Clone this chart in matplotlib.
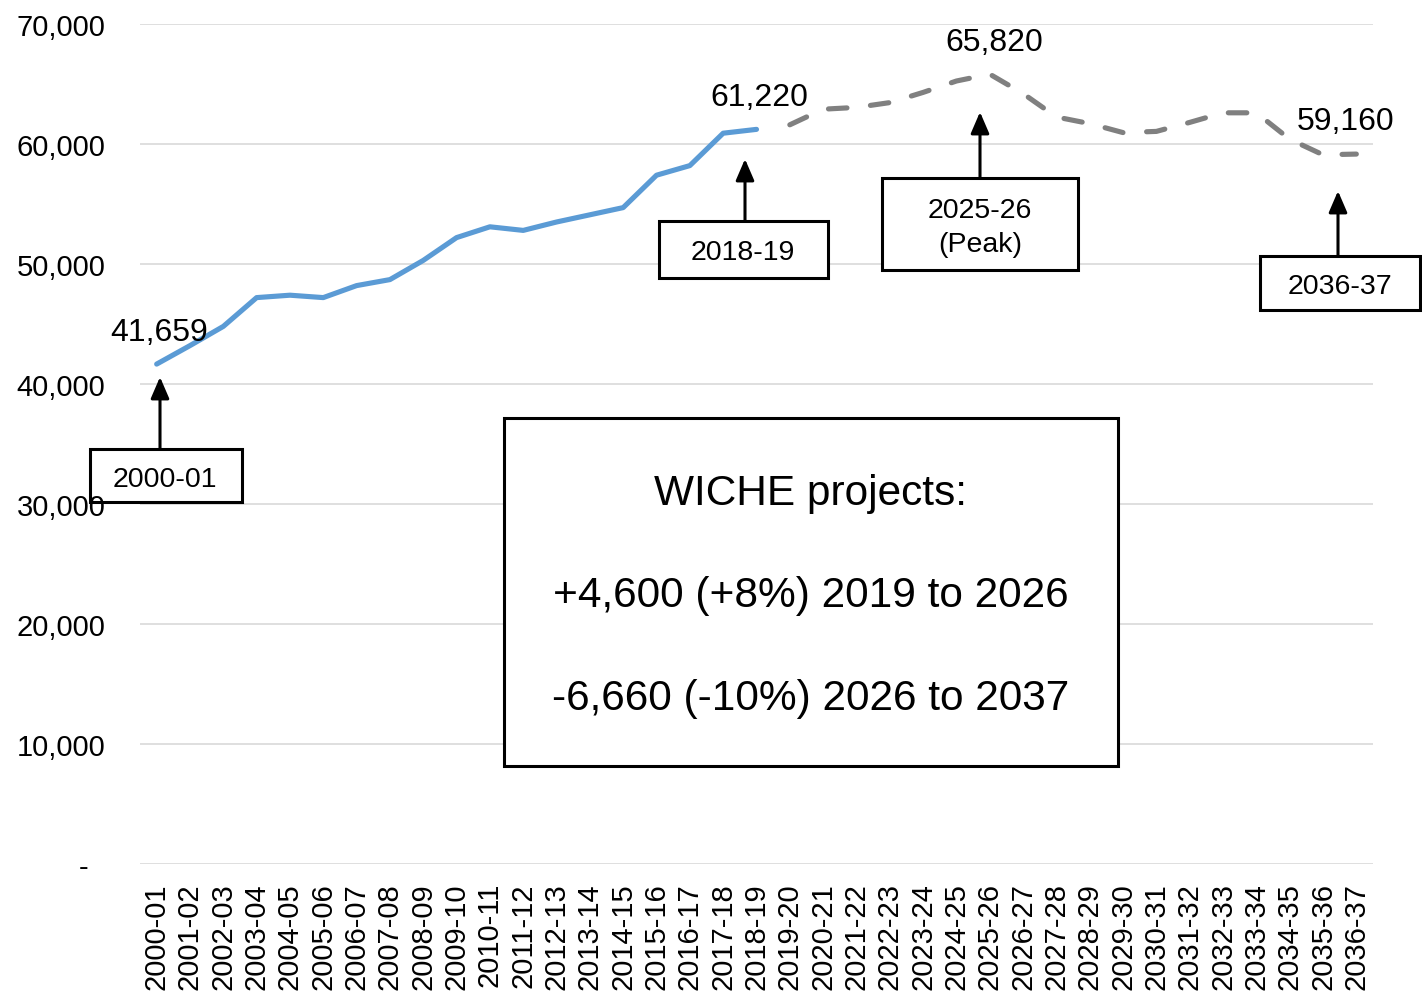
# WICHE high school graduates: actual + projected
import matplotlib
matplotlib.use('Agg')
import matplotlib.pyplot as plt
from matplotlib.patches import Rectangle

matplotlib.rcParams.update({'font.family': ['Liberation Sans', 'DejaVu Sans']})

years = ['2000-01', '2001-02', '2002-03', '2003-04', '2004-05', '2005-06', '2006-07',
         '2007-08', '2008-09', '2009-10', '2010-11', '2011-12', '2012-13', '2013-14',
         '2014-15', '2015-16', '2016-17', '2017-18', '2018-19', '2019-20', '2020-21',
         '2021-22', '2022-23', '2023-24', '2024-25', '2025-26', '2026-27', '2027-28',
         '2028-29', '2029-30', '2030-31', '2031-32', '2032-33', '2033-34', '2034-35',
         '2035-36', '2036-37']
actual = [41659, 43200, 44800, 47200, 47400, 47200, 48200, 48700, 50300, 52200,
          53100, 52800, 53500, 54100, 54700, 57400, 58200, 60900, 61220]
projected = [61600, 62900, 63050, 63450, 64300, 65250, 65820, 64200, 62250, 61700,
             60950, 61050, 61800, 62600, 62600, 60400, 59100, 59160]
yticks = [0, 10000, 20000, 30000, 40000, 50000, 60000, 70000]

# labelled points: (index, value)
labelled = [(0, actual[0]), (18, actual[18]), (25, projected[25 - 19]), (36, projected[-1])]

W, H = 1422, 1003
fig = plt.figure(figsize=(W / 100, H / 100), dpi=100)
ax = fig.add_axes([140 / W, 1 - 865 / H, (1373 - 140) / W, (865 - 25) / H])

ax.plot(range(len(actual)), actual, color='#5B9BD5', lw=3.7, solid_capstyle='round', zorder=3)
proj_x = range(19, 19 + len(projected))
ax.plot(proj_x, projected, color='#808080', lw=3.7, dashes=(3.6, 4.6),
        dash_capstyle='round', zorder=3)

ax.set_xlim(-0.5, len(years) - 0.5)
ax.set_ylim(0, 70000)
ax.set_xticks(range(len(years)))
ax.set_xticklabels(years, rotation=90, fontsize=21)
ax.set_yticks(yticks)
ax.set_yticklabels(['-  ' if v == 0 else f'{v:,}' for v in yticks], fontsize=21)
ax.tick_params(axis='y', length=0, pad=25)
ax.tick_params(axis='x', length=0, pad=13)
ax.grid(axis='y', color='#D9D9D9', lw=1.2)
ax.set_axisbelow(True)
for s in ax.spines.values():
    s.set_visible(False)

# data labels
offsets = [(2, 23), (2, 23), (3, 23), (-8, 24)]
for (i, v), off in zip(labelled, offsets):
    ax.annotate(f'{v:,}', xy=(i, v), xytext=off, textcoords='offset points',
                ha='center', va='center', fontsize=23)


# boxes + arrows in pixel coordinates (top-left origin)
def box(x0, x1, y0, y1, fill=True):
    fig.add_artist(Rectangle((x0 / W, 1 - y1 / H), (x1 - x0) / W, (y1 - y0) / H,
                             transform=fig.transFigure, fc='white', fill=fill,
                             ec='black', lw=2.2, zorder=5))


def arrow(x, y_base, y_tip):
    fig.add_artist(matplotlib.patches.FancyArrowPatch(
        (x / W, 1 - y_base / H), (x / W, 1 - y_tip / H), transform=fig.transFigure,
        arrowstyle='-|>,head_length=0.65,head_width=0.28', mutation_scale=20,
        color='black', lw=2.2, shrinkA=0, shrinkB=0, zorder=5))


def label(x, y, s, size=20.5):
    fig.text(x / W, 1 - y / H, s, ha='center', va='center', fontsize=size,
             linespacing=1.35, zorder=6)


box(90, 242, 450, 503, fill=False)
arrow(160, 450, 378)
label(165, 480, years[0])

box(659, 828, 222, 279)
arrow(745, 222, 160)
label(743, 253, years[18])

box(882, 1078, 179, 271)
arrow(980, 179, 113)
label(980, 228, years[25] + '\n(Peak)')

box(1260, 1420, 257, 311)
arrow(1338, 257, 192)
label(1340, 287, years[36])

box(504, 1118, 419, 767)
label(811, 494, 'WICHE projects:', 30.5)
label(811, 596, '+4,600 (+8%) 2019 to 2026', 30.5)
label(811, 699, '-6,660 (-10%) 2026 to 2037', 30.5)

fig.savefig('out.png', dpi=100)
plt.close()
